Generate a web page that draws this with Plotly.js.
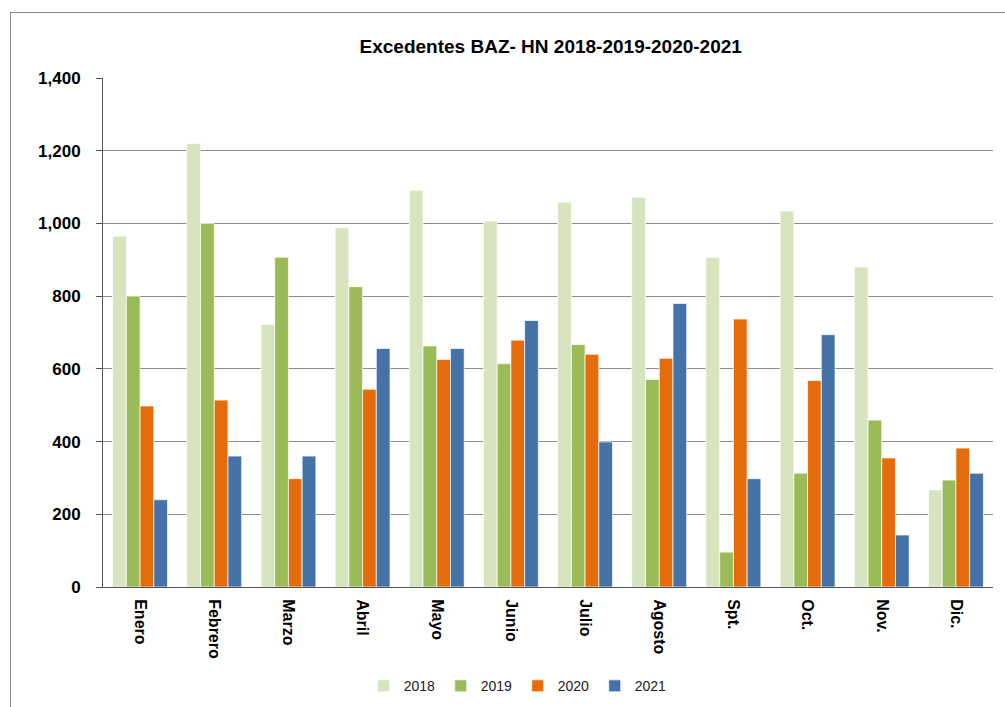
<!DOCTYPE html>
<html>
<head>
<meta charset="utf-8">
<script src="https://cdn.plot.ly/plotly-3.0.1.min.js"></script>
<style>
html,body{margin:0;padding:0;background:#fff;}
#wrap{position:relative;width:1005px;height:707px;}
#chart{position:absolute;left:0;top:0;width:1005px;height:707px;}
#frame{position:absolute;left:10px;top:12px;width:1000px;height:710px;border-left:1px solid #8a8a8a;border-top:1px solid #8a8a8a;pointer-events:none;}
</style>
</head>
<body>
<div id="wrap"><div id="chart"></div><div id="frame"></div></div>
<script>
const months = ["Enero","Febrero","Marzo","Abril","Mayo","Junio","Julio","Agosto","Spt.","Oct.","Nov.","Dic."];
const y2018 = [965,1220,722,988,1091,1007,1058,1072,906,1034,880,267];
const y2019 = [800,1000,907,826,663,614,667,571,96,313,459,294];
const y2020 = [498,514,298,544,626,679,640,629,737,568,355,382];
const y2021 = [240,360,360,656,656,733,399,780,298,694,143,313];

const seriesNames = ["2018","2019","2020","2021"];
const seriesData = [y2018,y2019,y2020,y2021];
const colors = ["#D7E4BD","#9BBB59","#E46C0A","#4572A7"];

const traces = seriesData.map((d,i)=>({
  type:"bar", name:seriesNames[i], x:months, y:d,
  marker:{color:colors[i], line:{color:"rgba(255,255,255,0.7)", width:1}},
  hoverinfo:"x+y+name"
}));

const layout = {
  width:1005, height:707,
  paper_bgcolor:"rgba(0,0,0,0)", plot_bgcolor:"#fff",
  margin:{l:103, r:12, t:78, b:120, autoexpand:false},
  barmode:"group", bargap:0.26, bargroupgap:0,
  font:{family:"Liberation Sans, Arial, sans-serif", color:"#000"},
  title:{text:"<b>Excedentes BAZ- HN 2018-2019-2020-2021</b>", x:0.548, xanchor:"center", y:0.935, yanchor:"middle",
         font:{family:"Liberation Sans, Arial, sans-serif", size:19, color:"#000"}},
  xaxis:{type:"category", tickangle:90, automargin:false,
         tickfont:{size:16, family:"Liberation Sans, Arial, sans-serif", color:"#000", weight:"bold"},
         ticklabelstandoff:8,
         showline:true, linecolor:"#555", linewidth:1, ticks:"", showgrid:false, fixedrange:true},
  yaxis:{range:[0,1400], dtick:200, tickformat:",d", showgrid:true, gridcolor:"#8c8c8c", gridwidth:1, automargin:false,
         showline:true, linecolor:"#555", linewidth:1, ticks:"outside", ticklen:6, tickcolor:"#555",
         tickfont:{size:17, family:"Liberation Sans, Arial, sans-serif", color:"#000", weight:"bold"}, ticklabelstandoff:12,
         zeroline:false, fixedrange:true},
  legend:{orientation:"h", x:0.466, xanchor:"center", y:-0.195, yanchor:"middle",
          font:{size:14, family:"Liberation Sans, Arial, sans-serif", color:"#222"},
          itemwidth:30, entrywidth:32, entrywidthmode:"pixels", traceorder:"normal"},
  showlegend:true
};

Plotly.newPlot("chart", traces, layout, {displayModeBar:false, staticPlot:true});
</script>
</body>
</html>
